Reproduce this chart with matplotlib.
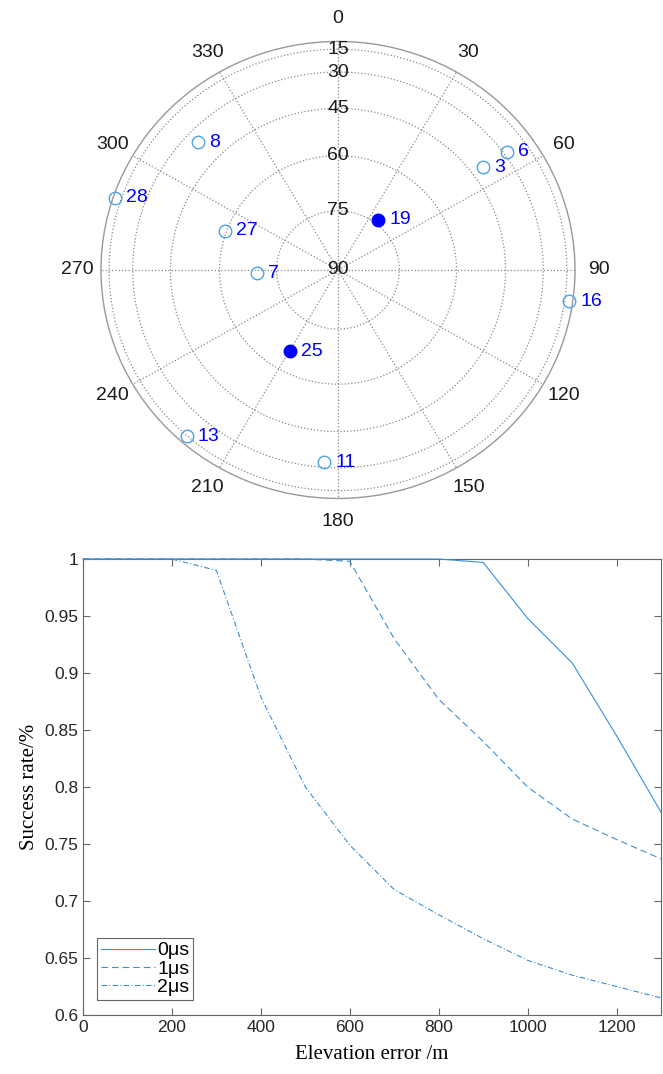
import numpy as np
import matplotlib
matplotlib.use('Agg')
import matplotlib.pyplot as plt

# satellite sky plot data
prn = [8, 6, 3, 28, 19, 27, 7, 16, 25, 13, 11]
azimuth = [313.3, 54.0, 53.6, 288.6, 37.7, 289.7, 267.5, 98.0, 209.5, 221.3, 184.0]
elevation = [35.5, 28.4, 40.7, 7.6, 73.9, 59.6, 70.0, 9.6, 65.9, 14.5, 32.5]
selected = [19, 25]

# success rate data
elev_err = [0, 100, 200, 300, 400, 500, 600, 700, 800, 900, 1000, 1100, 1200, 1300]
rate_0us = [1, 1, 1, 1, 1, 1, 1, 1, 1, 0.997, 0.948, 0.909, 0.845, 0.778]
rate_1us = [1, 1, 1, 1, 1, 1, 0.998, 0.930, 0.877, 0.840, 0.800, 0.772, 0.754, 0.737]
rate_2us = [1, 1, 1, 0.990, 0.879, 0.800, 0.749, 0.710, 0.688, 0.667, 0.648, 0.635, 0.625, 0.615]

line_col = '#3a8fd8'
axis_col = '#666666'
grid_col = '#888888'

fig = plt.figure(figsize=(6.63, 10.74), dpi=100)

# ---- polar sky plot ----
ax = fig.add_axes([0.1523, 0.5359, 0.715, 0.4255], projection='polar')
ax.set_theta_zero_location('N')
ax.set_theta_direction(-1)
ax.set_aspect('auto')
ax.set_ylim(0, 1)
ax.grid(False)
ax.set_xticks([])
ax.set_yticks([])
ax.spines['polar'].set_color('#999999')
ax.spines['polar'].set_linewidth(1.0)

th = np.linspace(0, 2 * np.pi, 361)
ring_el = [15, 30, 45, 60, 75]
for e in ring_el:
    ax.plot(th, np.full_like(th, np.cos(np.radians(e))), ls=':', color=grid_col, lw=0.9)
for a in range(0, 360, 30):
    ax.plot([np.radians(a)] * 2, [0, 1], ls=':', color=grid_col, lw=0.9)
for a in range(0, 360, 30):
    ax.text(np.radians(a), 1.1, str(a), ha='center', va='center',
            fontsize=14, family='Liberation Sans', color='#1a1a1a', clip_on=False)
for e in ring_el + [90]:
    ax.text(0, np.cos(np.radians(e)), str(e), ha='center', va='center',
            fontsize=14, family='Liberation Sans', color='#1a1a1a')

for p, az, el in zip(prn, azimuth, elevation):
    t = np.radians(az)
    r = np.cos(np.radians(el))
    if p in selected:
        ax.plot(t, r, 'o', ms=9, mfc='#0000ff', mec='#0000ff', clip_on=False)
    else:
        ax.plot(t, r, 'o', ms=9, mfc='none', mec='#4ba3e3', mew=1.0, clip_on=False)
    ax.annotate(str(p), (t, r), xytext=(8, 0), textcoords='offset points',
                ha='left', va='center', fontsize=14, family='Liberation Sans',
                color='#0000ff', annotation_clip=False)

# ---- success rate chart ----
ax2 = fig.add_axes([0.1252, 0.0549, 0.8718, 0.4246])
ax2.plot(elev_err, rate_0us, '-', color=line_col, lw=0.8, label='0μs', zorder=3, clip_on=False)
ax2.plot(elev_err, rate_1us, '--', color=line_col, lw=0.8, label='1μs', dashes=(6, 3.5),
         zorder=3, clip_on=False)
ax2.plot(elev_err, rate_2us, '-.', color=line_col, lw=0.8, label='2μs', dashes=(5, 2, 1, 2),
         zorder=3, clip_on=False)
ax2.set_xlim(0, 1300)
ax2.set_ylim(0.6, 1.0)
ax2.set_xticks(range(0, 1300, 200))
ax2.set_yticks(np.arange(0.6, 1.001, 0.05))
ax2.set_yticklabels(['0.6', '0.65', '0.7', '0.75', '0.8', '0.85', '0.9', '0.95', '1'])
ax2.tick_params(direction='in', top=True, right=True, labelsize=12.5,
                colors=axis_col, labelcolor='#262626', length=5, width=0.8)
for lab in ax2.get_xticklabels() + ax2.get_yticklabels():
    lab.set_family('Liberation Sans')
for s in ax2.spines.values():
    s.set_color(axis_col)
    s.set_linewidth(0.8)
ax2.set_xlabel('Elevation error /m', family='Liberation Serif', fontsize=15, labelpad=7)
ax2.set_ylabel('Success rate/%', family='Liberation Serif', fontsize=15, labelpad=4)
leg = ax2.legend(loc='lower left', bbox_to_anchor=(0.024, 0.033),
                 prop={'family': 'Liberation Sans', 'size': 14}, frameon=True,
                 fancybox=False, edgecolor=axis_col, handlelength=2.8,
                 handletextpad=0.1, borderpad=0.2, labelspacing=0.04,
                 borderaxespad=0, framealpha=1)
leg.get_frame().set_linewidth(0.8)

fig.savefig('out.png', dpi=100)
